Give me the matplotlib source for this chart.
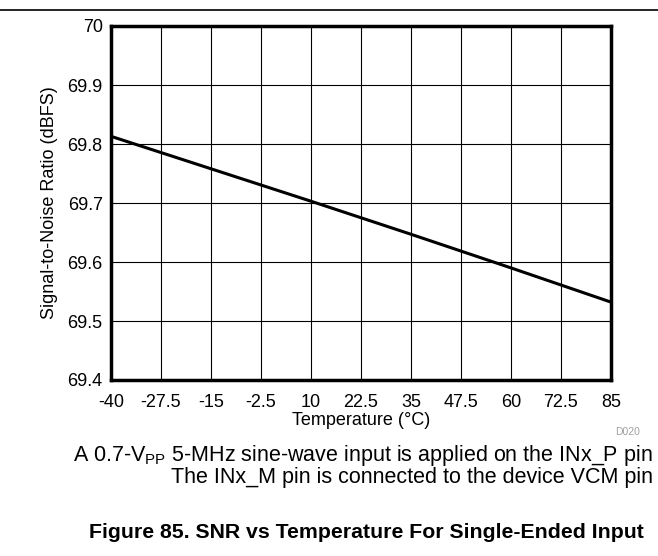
import matplotlib
matplotlib.use("Agg")
import matplotlib.pyplot as plt
from matplotlib.lines import Line2D

# SNR vs temperature, single-ended input
temperature = [-40, -15, 10, 35, 60, 85]
snr_dbfs = [69.813, 69.758, 69.703, 69.647, 69.590, 69.532]

x_ticks = [-40, -27.5, -15, -2.5, 10, 22.5, 35, 47.5, 60, 72.5, 85]
x_tick_labels = ["-40", "-27.5", "-15", "-2.5", "10", "22.5", "35", "47.5", "60", "72.5", "85"]
y_ticks = [69.4, 69.5, 69.6, 69.7, 69.8, 69.9, 70.0]
y_tick_labels = ["69.4", "69.5", "69.6", "69.7", "69.8", "69.9", "70"]

plt.rcParams["font.family"] = ["Liberation Sans", "DejaVu Sans"]
plt.rcParams["mathtext.fontset"] = "custom"
plt.rcParams["mathtext.rm"] = "Liberation Sans"

W, H = 658, 556
fig = plt.figure(figsize=(W / 100, H / 100), dpi=100)
ax = fig.add_axes([111 / W, 1 - 380 / H, 500 / W, 354 / H])

ax.plot(temperature, snr_dbfs, color="black", linewidth=2.2, zorder=3)

ax.set_xlim(-40, 85)
ax.set_ylim(69.4, 70.0)
ax.set_xticks(x_ticks)
ax.set_xticklabels(x_tick_labels, fontsize=13)
ax.set_yticks(y_ticks)
ax.set_yticklabels(y_tick_labels, fontsize=13)
ax.tick_params(axis="x", length=0, pad=10)
ax.tick_params(axis="y", length=0, pad=6)
ax.grid(True, color="black", linewidth=0.8)
for s in ax.spines.values():
    s.set_linewidth(2.5)
    s.set_zorder(4)

ax.set_xlabel("Temperature (°C)", fontsize=13, labelpad=1)
ax.set_ylabel("Signal-to-Noise Ratio (dBFS)", fontsize=13, labelpad=7)

# top rule
fig.add_artist(Line2D([0, 1], [1 - 10 / H, 1 - 10 / H], color="black", linewidth=1.2))

fig.text(640 / W, 1 - 432 / H, "D020", fontsize=7.5, color="#a0a0a0", ha="right", va="center")
fig.text(653 / W, 1 - 455 / H, r"A 0.7-V$_{\mathrm{PP}}$ 5-MHz sine-wave input is applied on the INx_P pin",
         fontsize=15.5, ha="right", va="center")
fig.text(653 / W, 1 - 477 / H, "The INx_M pin is connected to the device VCM pin",
         fontsize=15.5, ha="right", va="center")
fig.text(644 / W, 1 - 533 / H, "Figure 85. SNR vs Temperature For Single-Ended Input",
         fontsize=15.3, fontweight="bold", ha="right", va="center")

fig.savefig("out.png", dpi=100)
